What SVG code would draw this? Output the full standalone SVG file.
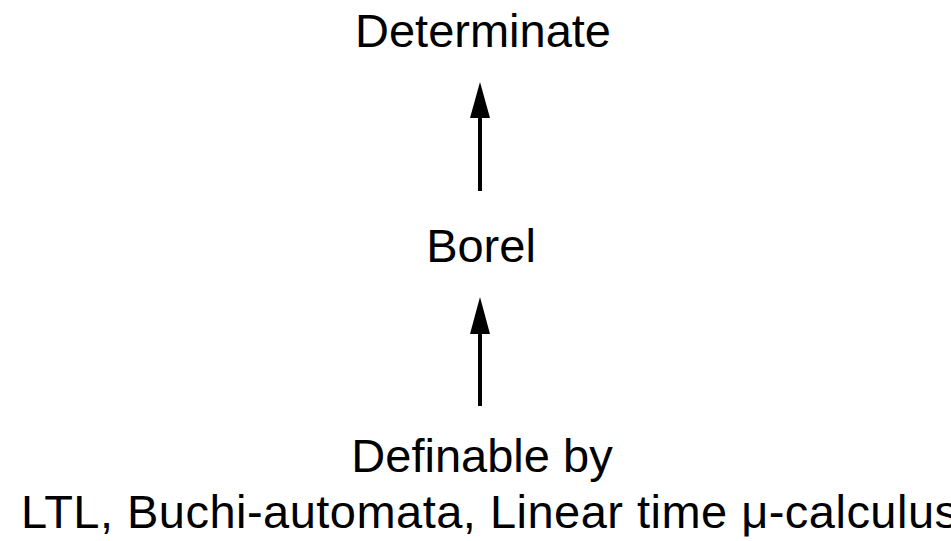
<svg xmlns="http://www.w3.org/2000/svg" width="951" height="541" viewBox="0 0 951 541">
<style>
text{font-family:"Liberation Sans",Arial,sans-serif;font-size:47px;fill:#000;text-anchor:middle}
.edge{stroke:#000;stroke-width:4;fill:none}
.head{fill:#000}
</style>
<rect width="951" height="541" fill="#fff"/>
<g id="connectors">
<line class="edge" x1="480" y1="191" x2="480" y2="116"/>
<path class="head" d="M470,118 L480,82 L490,118 Z"/>
<line class="edge" x1="480" y1="406" x2="480" y2="331"/>
<path class="head" d="M470,334 L480,297 L490,334 Z"/>
</g>
<g id="determinate"><text x="483" y="47">Determinate</text></g>
<g id="borel"><text x="481" y="262">Borel</text></g>
<g id="definable">
<text x="482" y="472">Definable by</text>
<text x="21" y="528" style="text-anchor:start" textLength="937" lengthAdjust="spacing">LTL, Buchi-automata, Linear time μ-calculus</text>
</g>
</svg>
